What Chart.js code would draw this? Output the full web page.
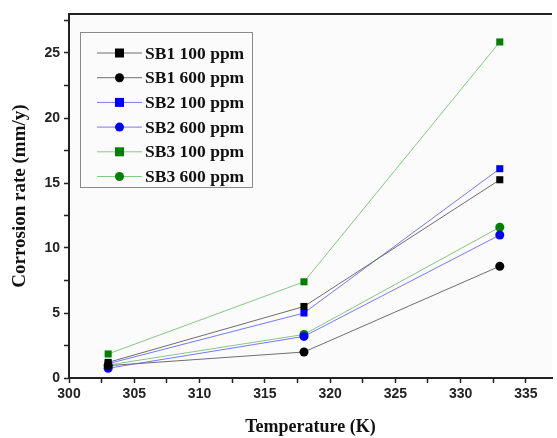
<!DOCTYPE html>
<html lang="en">
<head>
    <meta charset="UTF-8">
    <title>Corrosion rate vs Temperature</title>
    <script src="https://cdn.jsdelivr.net/npm/chart.js@4.4.1/dist/chart.umd.min.js"></script>
    <style>
        body {
            margin: 0;
            padding: 0;
            background: #ffffff;
        }
        .chart-container {
            position: relative;
            width: 557px;
            height: 438px;
        }
    </style>
</head>
<body>
    <div class="chart-container">
        <canvas id="rateChart"></canvas>
    </div>

    <script>
        // Temperature (K) and corrosion rate (mm/y)
        const temps = [303, 318, 333];
        const sb1_100 = [1.2, 5.5, 15.25];
        const sb1_600 = [0.95, 2.0, 8.6];
        const sb2_100 = [1.1, 5.0, 16.1];
        const sb2_600 = [0.75, 3.2, 11.0];
        const sb3_100 = [1.85, 7.4, 25.85];
        const sb3_600 = [1.0, 3.35, 11.6];

        const seriesNames = ['SB1 100 ppm', 'SB1 600 ppm', 'SB2 100 ppm', 'SB2 600 ppm', 'SB3 100 ppm', 'SB3 600 ppm'];
        const seriesValues = [sb1_100, sb1_600, sb2_100, sb2_600, sb3_100, sb3_600];
        const markerColors = ['#000000', '#000000', '#0000ff', '#0000ff', '#008000', '#008000'];
        const lineColors = ['#6e6e6e', '#6e6e6e', '#7878ff', '#7878ff', '#86c886', '#86c886'];
        const markerShapes = ['rect', 'circle', 'rect', 'circle', 'rect', 'circle'];

        const datasets = seriesNames.map((name, i) => ({
            label: name,
            data: temps.map((t, j) => ({ x: t, y: seriesValues[i][j] })),
            borderColor: lineColors[i],
            borderWidth: 1,
            backgroundColor: markerColors[i],
            pointBackgroundColor: markerColors[i],
            pointBorderColor: markerColors[i],
            pointBorderWidth: 0,
            pointStyle: markerShapes[i],
            pointRadius: markerShapes[i] === 'rect' ? 5 : 4.5,
            tension: 0
        }));

        // plot background + top frame line
        const frame = {
            id: 'frame',
            beforeDraw(chart) {
                const { ctx, chartArea: a } = chart;
                ctx.save();
                ctx.fillStyle = '#fbfbfb';
                ctx.fillRect(a.left, a.top, a.right - a.left, a.bottom - a.top);
                ctx.restore();
            },
            afterDraw(chart) {
                const { ctx, chartArea: a } = chart;
                ctx.save();
                ctx.strokeStyle = '#222';
                ctx.lineWidth = 2;
                ctx.beginPath();
                ctx.moveTo(a.left, a.top);
                ctx.lineTo(a.right, a.top);
                ctx.stroke();
                ctx.restore();
            }
        };

        // boxed legend, line sample with marker in the middle
        const boxLegend = {
            id: 'boxLegend',
            afterDatasetsDraw(chart) {
                const { ctx, chartArea: a } = chart;
                const left = a.left + 11, top = a.top + 18;
                const w = 172, h = 155, rowH = 24.7;
                ctx.save();
                ctx.fillStyle = '#fbfbfb';
                ctx.fillRect(left, top, w, h);
                ctx.strokeStyle = '#8a8a8a';
                ctx.lineWidth = 1;
                ctx.strokeRect(left + 0.5, top + 0.5, w, h);
                ctx.font = 'bold 17.5px "Liberation Serif", "Times New Roman", serif';
                ctx.textBaseline = 'middle';
                chart.data.datasets.forEach((ds, i) => {
                    const cy = top + 21 + i * rowH;
                    ctx.strokeStyle = ds.borderColor;
                    ctx.lineWidth = 1;
                    ctx.beginPath();
                    ctx.moveTo(left + 17, cy);
                    ctx.lineTo(left + 62, cy);
                    ctx.stroke();
                    ctx.fillStyle = ds.pointBackgroundColor;
                    if (ds.pointStyle === 'rect') {
                        ctx.fillRect(left + 39.5 - 4.5, cy - 4.5, 9, 9);
                    } else {
                        ctx.beginPath();
                        ctx.arc(left + 39.5, cy, 4.5, 0, Math.PI * 2);
                        ctx.fill();
                    }
                    ctx.fillStyle = '#111';
                    ctx.fillText(ds.label, left + 65, cy + 1);
                });
                ctx.restore();
            }
        };

        const tickFont = { family: '"Liberation Sans", Arial, sans-serif', size: 14, weight: 'bold' };
        const titleFont = { family: '"Liberation Serif", "Times New Roman", serif', size: 18, weight: 'bold' };

        new Chart(document.getElementById('rateChart'), {
            type: 'line',
            data: { datasets },
            options: {
                responsive: true,
                maintainAspectRatio: false,
                animation: false,
                layout: { padding: { top: 14, right: 0, left: 0, bottom: 0 } },
                plugins: {
                    legend: { display: false },
                    tooltip: { enabled: false }
                },
                scales: {
                    x: {
                        type: 'linear',
                        min: 300,
                        max: 337,
                        afterFit: s => { s.height = 60; },
                        ticks: {
                            stepSize: 2.5,
                            includeBounds: false,
                            autoSkip: false,
                            maxRotation: 0,
                            padding: 3,
                            color: '#222',
                            font: tickFont,
                            callback: v => (v % 5 === 0 ? v : '')
                        },
                        grid: {
                            drawOnChartArea: false,
                            tickLength: 5,
                            tickColor: '#222',
                            tickWidth: 1.5
                        },
                        border: { color: '#222', width: 2 },
                        title: {
                            display: true,
                            text: 'Temperature (K)',
                            color: '#111',
                            font: titleFont,
                            padding: { top: 8, bottom: 0 }
                        }
                    },
                    y: {
                        min: 0,
                        max: 28,
                        afterFit: s => { s.width = 69; },
                        ticks: {
                            stepSize: 2.5,
                            includeBounds: false,
                            autoSkip: false,
                            padding: 4,
                            color: '#222',
                            font: tickFont,
                            callback: v => (v % 5 === 0 ? v : '')
                        },
                        grid: {
                            drawOnChartArea: false,
                            tickLength: 5,
                            tickColor: '#222',
                            tickWidth: 1.5
                        },
                        border: { color: '#222', width: 2 },
                        title: {
                            display: true,
                            text: 'Corrosion rate (mm/y)',
                            color: '#111',
                            font: { family: titleFont.family, size: 19, weight: 'bold' },
                            padding: { top: 9, bottom: 4 }
                        }
                    }
                }
            },
            plugins: [frame, boxLegend]
        });
    </script>
</body>
</html>
